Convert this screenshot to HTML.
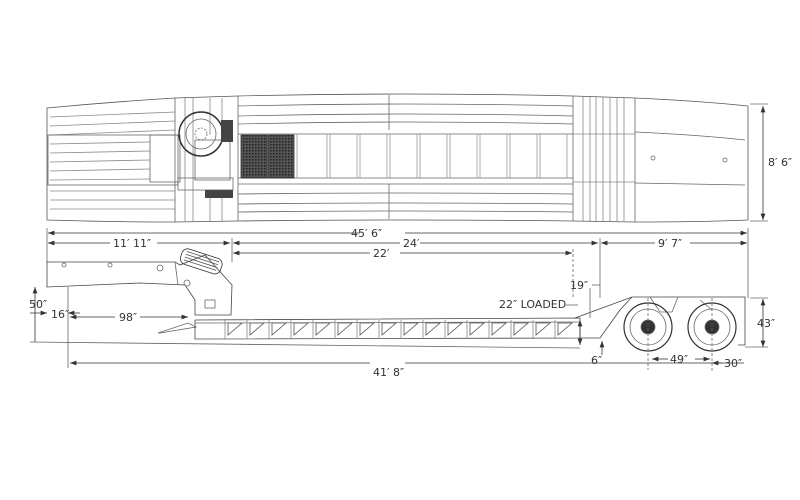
<!DOCTYPE html>
<html><head><meta charset="utf-8"><style>
html,body{margin:0;padding:0;background:#fff;width:800px;height:500px;overflow:hidden}
svg{display:block}
text{font-family:"DejaVu Sans","Liberation Sans",sans-serif;font-size:11px;fill:#333}
</style></head><body>
<svg width="800" height="500" viewBox="0 0 800 500">
<defs>
<marker id="a" markerWidth="8" markerHeight="6" refX="8" refY="3" orient="auto-start-reverse"><path d="M0,0 L8,3 L0,6 z" fill="#333"/></marker>
<pattern id="h" width="3" height="3" patternUnits="userSpaceOnUse"><rect width="3" height="3" fill="#555"/><rect width="1.5" height="1.5" fill="#222"/></pattern>
</defs>
<g fill="none" stroke="#666" stroke-width="0.8">
<!-- TOP VIEW -->
<path d="M47,108 Q110,102 175,98 L238,96 Q405,92 573,96 L635,98 Q700,101 748,106 L748,220 Q700,222 635,222 L573,221 Q405,219 238,221 L175,222 Q110,222 47,220 Z" stroke="#555"/>
<!-- left gooseneck planks -->
<g stroke="#888">
<path d="M50,117 L175,112 M50,126 L175,121 M50,135 L175,130 M50,144 L150,142 M50,153 L150,151 M50,162 L150,160 M50,171 L150,169 M50,180 L150,179 M50,191 L175,191 M50,200 L175,200 M50,209 L175,209"/>
</g>
<rect x="48" y="135" width="130" height="50"/>
<rect x="150" y="135" width="30" height="47"/>
<line x1="175" y1="98" x2="175" y2="222"/>
<line x1="238" y1="96" x2="238" y2="221"/>
<g stroke="#888"><path d="M185,98 V222 M193,98 V222 M210,98 V135 M222,98 V135 M210,190 V222 M222,190 V222"/></g>
<rect x="178" y="178" width="55" height="12"/>
<rect x="195" y="140" width="35" height="40"/>
<circle cx="201" cy="134" r="22" stroke="#333" stroke-width="1.5"/>
<circle cx="201" cy="134" r="15"/>
<circle cx="201" cy="134" r="6" stroke-dasharray="2 1.5"/>
<rect x="221" y="120" width="12" height="22" fill="#444" stroke="none"/>
<rect x="205" y="190" width="28" height="8" fill="#444" stroke="none"/>
<!-- main deck -->
<path d="M238,106 Q405,102 573,106 M238,116 Q405,112 573,116 M238,124 Q405,120 573,124 M238,134 L573,134 M238,178 L573,178 M238,184 L573,184 M238,194 Q405,192 573,194 M238,204 Q405,202 573,204 M238,212 Q405,210 573,212"/>
<line x1="389" y1="95" x2="389" y2="130"/>
<line x1="389" y1="184" x2="389" y2="219"/>
<rect x="241" y="135" width="26" height="43" fill="url(#h)" stroke="#333"/>
<rect x="268" y="135" width="26" height="43" fill="url(#h)" stroke="#333"/>
<g stroke="#999"><path d="M297,134V178 M327,134V178 M330,134V178 M357,134V178 M360,134V178 M387,134V178 M390,134V178 M417,134V178 M420,134V178 M447,134V178 M450,134V178 M477,134V178 M480,134V178 M507,134V178 M510,134V178 M537,134V178 M540,134V178 M567,134V178"/></g>
<!-- rear slats -->
<line x1="573" y1="96" x2="573" y2="221"/>
<line x1="635" y1="98" x2="635" y2="222"/>
<g stroke="#888"><path d="M583,97V221 M590,97V221 M596,97V221 M603,97V221 M610,97V221 M617,97V221 M624,97V221 M573,134H635 M573,182H635"/></g>
<path d="M635,132 Q700,135 745,140 M635,183 L745,185"/>
<circle cx="653" cy="158" r="2"/><circle cx="725" cy="160" r="2"/>
<!-- 8'6 dim -->
<line x1="763" y1="106" x2="763" y2="220" stroke="#333" marker-start="url(#a)" marker-end="url(#a)"/>
<line x1="750" y1="104" x2="768" y2="104"/>
<line x1="750" y1="221" x2="768" y2="221"/>

<!-- SIDE VIEW dims -->
<g stroke="#333">
<line x1="48" y1="233" x2="360" y2="233" marker-start="url(#a)"/>
<line x1="405" y1="233" x2="747" y2="233" marker-end="url(#a)"/>
<line x1="48" y1="243" x2="110" y2="243" marker-start="url(#a)"/>
<line x1="157" y1="243" x2="230" y2="243" marker-end="url(#a)"/>
<line x1="233" y1="243" x2="400" y2="243" marker-start="url(#a)"/>
<line x1="420" y1="243" x2="598" y2="243" marker-end="url(#a)"/>
<line x1="601" y1="243" x2="655" y2="243" marker-start="url(#a)"/>
<line x1="690" y1="243" x2="747" y2="243" marker-end="url(#a)"/>
<line x1="233" y1="253" x2="370" y2="253" marker-start="url(#a)"/>
<line x1="400" y1="253" x2="572" y2="253" marker-end="url(#a)"/>
</g>
<line x1="47" y1="228" x2="47" y2="262"/>
<line x1="232" y1="238" x2="232" y2="262"/>
<line x1="600" y1="238" x2="600" y2="298"/>
<line x1="748" y1="228" x2="748" y2="298"/>
<line x1="573" y1="249" x2="573" y2="298" stroke-dasharray="3 2"/>

<!-- gooseneck -->
<path d="M47,262 L175,262 L180,265 L205,255 L232,285 L231,315 L195,315 L195,300 L185,285 L140,283 L47,287 Z" stroke="#444"/>
<path d="M175,262 L178,285"/>
<g transform="rotate(18 200 262)"><rect x="180" y="253" width="42" height="16" rx="6" stroke="#333"/><path d="M184,256h34M184,259h34M184,262h34M184,265h34" stroke="#555"/></g>
<circle cx="187" cy="283" r="3"/><rect x="205" y="300" width="10" height="8"/>
<circle cx="64" cy="265" r="2"/><circle cx="110" cy="265" r="2"/><circle cx="160" cy="268" r="3"/>
<path d="M158,333 L188,323 L196,327 L160,333 Z"/>
<!-- deck -->
<path d="M195,320 L580,318 L580,338 L195,339 Z" stroke="#444"/>
<line x1="195" y1="323" x2="580" y2="322"/>
<g stroke="#555">
<path d="M228,323 l14,0 l-14,12 z M250,323 l14,0 l-14,12 z M272,323 l14,0 l-14,12 z M294,323 l14,0 l-14,12 z M316,323 l14,0 l-14,12 z M338,323 l14,0 l-14,12 z M360,323 l14,0 l-14,12 z M382,323 l14,0 l-14,12 z M404,323 l14,0 l-14,12 z M426,323 l14,0 l-14,12 z M448,323 l14,0 l-14,12 z M470,323 l14,0 l-14,12 z M492,323 l14,0 l-14,12 z M514,323 l14,0 l-14,12 z M536,323 l14,0 l-14,12 z M558,323 l14,0 l-14,12 z"/>
</g>
<g stroke="#888"><path d="M225,320V339 M247,320V339 M269,320V339 M291,320V339 M313,320V339 M335,320V339 M357,320V339 M379,320V339 M401,320V339 M423,320V339 M445,320V339 M467,320V339 M489,320V339 M511,320V339 M533,320V339 M555,320V339"/></g>
<!-- rear -->
<path d="M575,318 L632,297 L745,297 L745,345 L738,345 M580,338 L600,338 L620,310 L632,297" stroke="#444"/>
<path d="M650,297 L660,312 L672,312 L678,297 M700,300 L712,310"/>
<circle cx="648" cy="327" r="24" stroke="#333" stroke-width="1.2"/>
<circle cx="648" cy="327" r="18"/>
<circle cx="648" cy="327" r="7" fill="#333"/>
<circle cx="712" cy="327" r="24" stroke="#333" stroke-width="1.2"/>
<circle cx="712" cy="327" r="18"/>
<circle cx="712" cy="327" r="7" fill="#333"/>
<line x1="648" y1="298" x2="648" y2="370" stroke-dasharray="3 2"/>
<line x1="712" y1="298" x2="712" y2="372" stroke-dasharray="3 2"/>
<!-- side dims -->
<g stroke="#333">
<line x1="35" y1="287" x2="35" y2="342" marker-start="url(#a)"/>
<line x1="30" y1="313" x2="47" y2="313" marker-end="url(#a)"/>
<line x1="68" y1="313" x2="80" y2="313" marker-start="url(#a)"/>
<line x1="70" y1="317" x2="115" y2="317" marker-start="url(#a)"/>
<line x1="140" y1="317" x2="188" y2="317" marker-end="url(#a)"/>
<line x1="70" y1="363" x2="370" y2="363" marker-start="url(#a)"/>
<line x1="405" y1="363" x2="744" y2="363"/>
<line x1="763" y1="299" x2="763" y2="347" marker-start="url(#a)" marker-end="url(#a)"/>
<line x1="580" y1="320" x2="580" y2="345" marker-start="url(#a)" marker-end="url(#a)"/>
<line x1="602" y1="355" x2="602" y2="341" marker-end="url(#a)"/>
<line x1="652" y1="359" x2="668" y2="359" marker-start="url(#a)"/>
<line x1="695" y1="359" x2="710" y2="359" marker-end="url(#a)"/>
<line x1="712" y1="363" x2="722" y2="363" marker-start="url(#a)"/>
</g>
<line x1="68" y1="287" x2="68" y2="368"/>
<line x1="30" y1="342" x2="580" y2="348"/>
<line x1="592" y1="285" x2="600" y2="285"/>
<line x1="590" y1="288" x2="590" y2="318"/>
<line x1="566" y1="305" x2="578" y2="305"/>
<line x1="750" y1="298" x2="768" y2="298"/>
<line x1="745" y1="347" x2="768" y2="347"/>
</g>
<text x="351" y="237" font-size="12">45′ 6″</text>
<text x="113" y="247">11′ 11″</text>
<text x="403" y="247">24′</text>
<text x="658" y="247">9′ 7″</text>
<text x="373" y="257">22′</text>
<text x="768" y="166" font-size="12">8′ 6″</text>
<text x="29" y="308">50″</text>
<text x="51" y="318">16″</text>
<text x="119" y="321">98″</text>
<text x="570" y="289">19″</text>
<text x="499" y="308">22″ LOADED</text>
<text x="591" y="364">6″</text>
<text x="670" y="363">49″</text>
<text x="724" y="367">30″</text>
<text x="757" y="327">43″</text>
<text x="373" y="376">41′ 8″</text>
</svg>
</body></html>
